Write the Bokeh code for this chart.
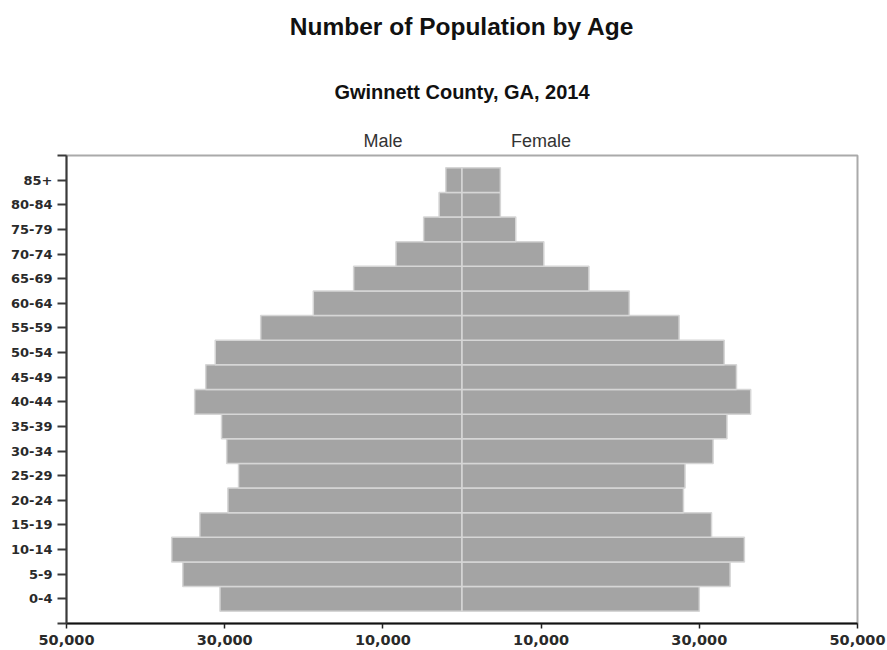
from bokeh.plotting import figure
from bokeh.models import Range1d, FixedTicker, LinearAxis, Title
from bokeh.embed import file_html
from bokeh.resources import INLINE

# ---- data ----
ages = ["0-4", "5-9", "10-14", "15-19", "20-24", "25-29", "30-34", "35-39", "40-44",
        "45-49", "50-54", "55-59", "60-64", "65-69", "70-74", "75-79", "80-84", "85+"]
male = [30600, 35300, 36700, 33150, 29600, 28250, 29750, 30400, 33800,
        32400, 31200, 25450, 18800, 13700, 8350, 4850, 2900, 2050]
female = [30000, 33900, 35700, 31550, 28000, 28200, 31750, 33500, 36500,
          34700, 33150, 27450, 21150, 16050, 10350, 6800, 4850, 4850]
x_tick_values = [-50000, -30000, -10000, 10000, 30000, 50000]
x_tick_labels = ["50,000", "30,000", "10,000", "10,000", "30,000", "50,000"]
side_labels = ["Male", "Female"]
side_label_x = [-10000, 10000]
title_text = "Number of Population by Age"
subtitle_text = "Gwinnett County, GA, 2014"

n = len(ages)
idx = list(range(n))

W, H = 887, 650
p = figure(width=W, height=H, output_backend="svg", toolbar_location=None,
           title_location=None,
           x_range=Range1d(-50000, 50000), y_range=Range1d(-1, n),
           min_border_left=66, min_border_right=30, min_border_top=155,
           min_border_bottom=27, background_fill_color="white",
           border_fill_color="white")
p.xgrid.visible = False
p.ygrid.visible = False
p.outline_line_color = "#aaaaaa"
p.outline_line_width = 2

p.hbar(y=idx, left=[-v for v in male], right=0, height=1.0,
       fill_color="#a4a4a4", line_color="#d6d6d6", line_width=1.5)
p.hbar(y=idx, left=0, right=female, height=1.0,
       fill_color="#a4a4a4", line_color="#d6d6d6", line_width=1.5)

# x axis
xa = p.xaxis[0]
xa.ticker = FixedTicker(ticks=x_tick_values)
xa.major_label_overrides = {v: l for v, l in zip(x_tick_values, x_tick_labels)}
xa.minor_tick_line_color = None
xa.major_tick_in = 0
xa.major_tick_out = 5
xa.major_tick_line_width = 1.5
xa.major_tick_line_color = "#222222"
xa.axis_line_color = "#111111"
xa.axis_line_width = 2
xa.major_label_standoff = 6
xa.major_label_text_font = "DejaVu Sans"
xa.major_label_text_font_style = "bold"
xa.major_label_text_font_size = "14.5px"
xa.major_label_text_color = "#2a2a2a"

# y axis
ya = p.yaxis[0]
yt = [-1] + idx + [n]
ya.ticker = FixedTicker(ticks=yt)
ovr = {i: a for i, a in zip(idx, ages)}
ovr[-1] = ""
ovr[n] = ""
ya.major_label_overrides = ovr
ya.minor_tick_line_color = None
ya.major_tick_in = 0
ya.major_tick_out = 9
ya.major_tick_line_width = 2
ya.major_tick_line_color = "#3a3a3a"
ya.axis_line_color = "#3a3a3a"
ya.axis_line_width = 2
ya.major_label_standoff = 5
ya.major_label_text_font = "DejaVu Sans"
ya.major_label_text_font_style = "bold"
ya.major_label_text_font_size = "13px"
ya.major_label_text_color = "#2a2a2a"

# Male / Female labels as a top axis
ta = LinearAxis(ticker=FixedTicker(ticks=side_label_x),
                major_label_overrides={v: l for v, l in zip(side_label_x, side_labels)},
                axis_line_color=None, major_tick_line_color=None,
                minor_tick_line_color=None, major_tick_in=0, major_tick_out=0,
                major_label_standoff=5, major_label_text_font="Liberation Sans",
                major_label_text_font_size="18px", major_label_text_color="#333333")
p.add_layout(ta, "above")

p.add_layout(Title(text=subtitle_text, align="center", text_font="Liberation Sans",
                   text_font_style="bold", text_font_size="20px",
                   text_color="#111111", standoff=50), "above")
p.add_layout(Title(text=title_text, align="center", vertical_align="top",
                   text_font="Liberation Sans",
                   text_font_style="bold", text_font_size="24.5px",
                   text_color="#111111", standoff=24), "above")

open("out.html", "w").write(file_html(p, INLINE))
